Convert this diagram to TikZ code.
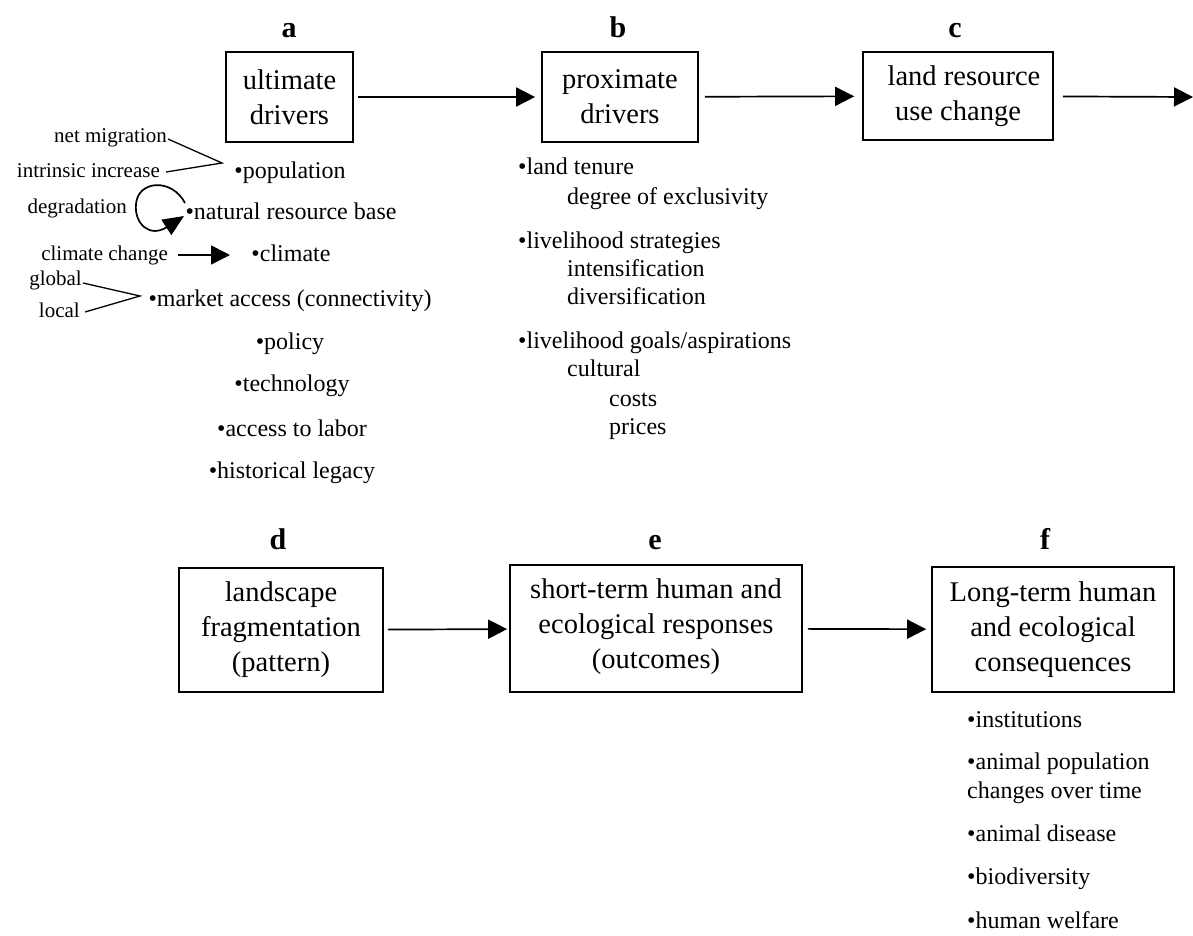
\documentclass[tikz,border=0pt]{standalone}
\usepackage{fontspec}
\setmainfont{Liberation Serif}
\usetikzlibrary{arrows.meta}
\begin{document}
\begin{tikzpicture}[x=1pt,y=-1pt,
  box/.style={draw,line width=1.7pt,align=center,font=\fontsize{28.5}{35}\selectfont,inner sep=0pt},
  lbl/.style={font=\fontsize{30}{34}\selectfont\bfseries,anchor=base,inner sep=0pt},
  item/.style={font=\fontsize{24}{28}\selectfont,anchor=base,inner sep=0pt},
  itemw/.style={item,anchor=base west},
  side/.style={font=\fontsize{21}{25}\selectfont,anchor=base east,inner sep=0pt},
  flow/.style={line width=1.7pt,-{Triangle[length=19pt,width=19pt]}},
  thinline/.style={line width=1.3pt}
]
\useasboundingbox (0,0) rectangle (1193,935);

% ---- row 1 boxes and labels
\node[lbl] (la) at (289,37) {a};
\node[lbl] (lb) at (618,37) {b};
\node[lbl] (lc) at (955,37) {c};
\node[box,minimum width=127pt,minimum height=90pt] (a) at (289.5,97) {ultimate\\drivers};
\node[box,minimum width=156pt,minimum height=90pt] (b) at (620,97) {proximate\\drivers};
\node[box,minimum width=190pt,minimum height=88pt] (c) at (958,96) {\hspace*{12pt}land resource\\use change};
\coordinate (out) at (1193,97);

\draw[flow,shorten <=4pt,shorten >=6pt] (a) -- (b);
\draw[flow,shorten <=6pt,shorten >=8pt] (b) -- (c);
\draw[flow,shorten <=9pt] (c) -- (out);

% ---- row 2 boxes and labels
\node[lbl] (ld) at (278,549) {d};
\node[lbl] (le) at (655,549) {e};
\node[lbl] (lf) at (1045,549) {f};
\node[box,minimum width=204pt,minimum height=124pt] (d) at (281,630) {landscape\\fragmentation\\(pattern)};
\node[box,minimum width=292pt,minimum height=127pt] (e) at (656,628.5) {short-term human and\\ecological responses\\(outcomes)\\[-26pt]\mbox{}};
\node[box,minimum width=242pt,minimum height=125pt] (f) at (1053,629.5) {Long-term human\\and ecological\\consequences};

\draw[flow,shorten <=4pt,shorten >=2pt] (d) -- (e);
\draw[flow,shorten <=5pt,shorten >=5pt] (e) -- (f);

% ---- ultimate drivers list
\node[item] (pop) at (290,178) {•population};
\node[item] (nrb) at (291,219) {•natural resource base};
\node[item] (clim) at (291,261) {•climate};
\node[item] (mkt) at (290,306) {•market access (connectivity)};
\node[item] (pol) at (290,349) {•policy};
\node[item] (tech) at (292,391) {•technology};
\node[item] (lab) at (292,436) {•access to labor};
\node[item] (hist) at (292,478) {•historical legacy};

% side annotations
\node[side] (netmig) at (167,142) {net migration};
\node[side] (intr) at (160,177) {intrinsic increase};
\node[side] (degr) at (127,213) {degradation};
\node[side] (cc) at (168,260) {climate change};
\node[side] (glob) at (82,285) {global};
\node[side] (loc) at (80,317) {local};

\coordinate (popv) at (222,163);
\coordinate (nm1) at (168,139);
\coordinate (ii1) at (166,172);
\draw[thinline] (nm1) -- (popv) -- (ii1);

\coordinate (mktv) at (140,296);
\coordinate (gl1) at (83,283);
\coordinate (lo1) at (85,312);
\draw[thinline] (gl1) -- (mktv) -- (lo1);

\coordinate (loopstart) at (185,203);
\coordinate (looptip) at (184,216);
\draw[line width=1.7pt,-{Triangle[length=21pt,width=18pt]}] (loopstart)
  .. controls (172,178) and (138,180) .. (136,204)
  .. controls (134,224) and (150,238) .. (looptip);

\coordinate (ccs) at (178,255);
\coordinate (cct) at (230,255);
\draw[flow] (ccs) -- (cct);

% ---- proximate drivers list
\node[itemw] (lt) at (518,174) {•land tenure};
\node[itemw] (doe) at (567,204) {degree of exclusivity};
\node[itemw] (ls) at (518,248) {•livelihood strategies};
\node[itemw] (int) at (567,276) {intensification};
\node[itemw] (div) at (567,304) {diversification};
\node[itemw] (lg) at (518,348) {•livelihood goals/aspirations};
\node[itemw] (cul) at (567,376) {cultural};
\node[itemw] (cos) at (609,406) {costs};
\node[itemw] (pri) at (609,434) {prices};

% ---- consequences list
\node[itemw] (ins) at (967,727) {•institutions};
\node[itemw] (ap) at (967,769) {•animal population};
\node[itemw] (cot) at (967,798) {changes over time};
\node[itemw] (ad) at (967,841) {•animal disease};
\node[itemw] (bio) at (967,884) {•biodiversity};
\node[itemw] (hw) at (967,928) {•human welfare};
\end{tikzpicture}
\end{document}
